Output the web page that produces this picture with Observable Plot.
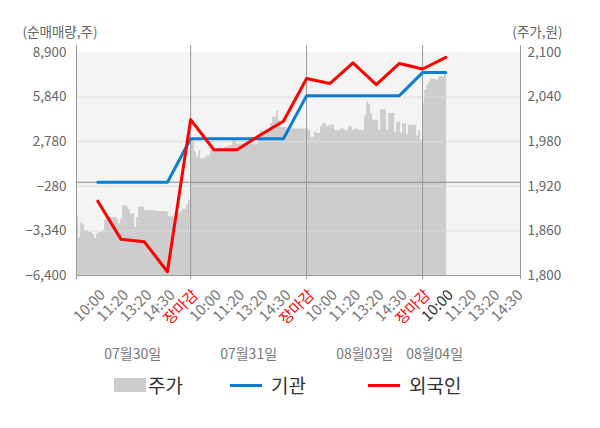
<!DOCTYPE html>
<html><head><meta charset="utf-8">
<script src="https://cdn.jsdelivr.net/npm/d3@7"></script>
<script src="https://cdn.jsdelivr.net/npm/@observablehq/plot@0.6"></script>
<style>
body{margin:0;background:#fff;font-family:"Noto Sans CJK KR","Noto Sans",sans-serif;}
#wrap{position:relative;width:600px;height:428px;overflow:hidden;}
#wrap svg{position:absolute;left:0;top:0;}
.lg{position:absolute;font-size:19px;color:#333;line-height:22px;}
.sw{position:absolute;}
</style></head><body><div id="wrap"></div>
<script>
const dates = ["07월30일", "07월31일", "08월03일", "08월04일"];
const tickLabels = ["10:00","11:20","13:20","14:30","장마감","10:00","11:20","13:20","14:30","장마감","10:00","11:20","13:20","14:30","장마감","10:00","11:20","13:20","14:30"];
const leftTicks = [-6400, -3340, -280, 2780, 5840, 8900];
const priceTicks = [1800, 1860, 1920, 1980, 2040, 2100];
const institution = [0, 0, 0, 0, 2980, 2980, 2980, 2980, 2980, 5939, 5939, 5939, 5939, 5939, 7521, 7521];
const foreign = [-1300, -3920, -4080, -6140, 4300, 2230, 2230, 3240, 4180, 7110, 6770, 8190, 6700, 8150, 7770, 8570];
const price0730 = [1879,1879,1851,1871,1868,1860,1860,1858,1858,1855,1850,1856,1858,1858,1860,1874,1878,1878,1878,1878,1878,1876,1870,1876,1894,1894,1892,1888,1882,1883,1865,1878,1892,1892,1892,1887,1887,1887,1887,1887,1887,1886,1886,1886,1886,1886,1885,1879,1879,1879,1879,1883,1883,1886,1889,1889,1895,1901,1901];
const price0731 = [1982,1982,1966,1959,1968,1957,1957,1958,1961,1961,1968,1968,1968,1968,1970,1970,1970,1973,1973,1975,1975,1982,1982,1977,1977,1977,1977,1977,1977,1977,1977,1977,1977,1977,1988,1995,1993,1993,1993,1993,2004,2013,2013,2022,2008,1999,1999,1999,1997,1997,1997,1997,1997,1997,1997,1997,1997,1997,1997];
const price0803 = [1997,1995,1986,1986,1993,1991,1991,2000,2004,2004,2000,2001,2002,2002,1995,1995,1995,1997,1997,1995,1995,2000,2000,1995,1997,1997,1995,1995,1995,2015,2033,2030,2018,2009,2009,2009,1995,2023,2023,2023,1995,2018,2018,2018,1993,2006,2006,1992,2004,2004,1990,2002,2002,2002,2002,1988,1995,1982,1982];
const price0804 = [2031,2049,2056,2060,2064,2064,2064,2062,2067,2067,2067,2072,2072];

const priceDays = [price0730, price0731, price0803, price0804];
const yMin = leftTicks[0], yMax = leftTicks[leftTicks.length - 1];
const pMin = priceTicks[0], pMax = priceTicks[priceTicks.length - 1];
const toLeft = p => yMin + (p - pMin) / (pMax - pMin) * (yMax - yMin);
const toPrice = v => pMin + (v - yMin) / (yMax - yMin) * (pMax - pMin);

const ticksPerDay = 5;
const stepT = ticksPerDay / 58;
const priceData = [];
const dayInfo = [];
priceDays.forEach((arr, d) => {
  const start = ticksPerDay * d - 1;
  arr.forEach((p, k) => priceData.push({t: start + k * stepT, v: toLeft(p)}));
  dayInfo.push({date: dates[d], c: start + (arr.length - 1) * stepT / 2});
});
const xTicks = tickLabels.map((label, i) => ({t: i, label}));
const closes = xTicks.filter(d => d.label === "장마감").map(d => d.t);
const nowIndex = foreign.length - 1;
const instData = institution.map((v, i) => ({t: i, v}));
const forData = foreign.map((v, i) => ({t: i, v}));
const xDomain = [-0.92, 18.22];
const fmt = d3.format(",");
const tickText = {x: "t", text: "label", frameAnchor: "bottom", lineAnchor: "middle", rotate: -45, textAnchor: "end", dx: 5, dy: 17, fontSize: 15};

const chart = Plot.plot({
  width: 600, height: 372,
  marginLeft: 76, marginRight: 80, marginTop: 52, marginBottom: 97,
  style: {fontFamily: "'Noto Sans CJK KR', 'Noto Sans', sans-serif", fontSize: "13px", background: "transparent"},
  x: {domain: xDomain, axis: null},
  y: {domain: [yMin, yMax], axis: null},
  marks: [
    Plot.frame({fill: "#f4f4f4", stroke: "none"}),
    Plot.areaY(priceData, {x: "t", y1: () => yMin, y2: "v", fill: "#cdcdcd", clip: true, curve: "step-after"}),
    Plot.ruleY(leftTicks.slice(1, -1), {stroke: "#dcdcdc", strokeWidth: 1}),
    Plot.ruleY([0], {stroke: "#8a8a8a", strokeWidth: 1}),
    Plot.ruleY([yMin], {stroke: "#9a9a9a", strokeWidth: 1}),
    Plot.ruleX(closes, {stroke: "#9a9a9a", strokeWidth: 1, insetTop: -7, insetBottom: -4}),
    Plot.ruleX(xDomain, {stroke: "#9a9a9a", strokeWidth: 1, insetTop: -7, insetBottom: -4}),
    Plot.line(instData, {x: "t", y: "v", stroke: "#0a7fcf", strokeWidth: 3}),
    Plot.line(forData, {x: "t", y: "v", stroke: "#ff0000", strokeWidth: 3}),
    Plot.axisY({ticks: leftTicks, tickSize: 0, tickPadding: 10, tickFormat: fmt, fontSize: 13.5, color: "#666", label: null}),
    Plot.axisY({anchor: "right", ticks: leftTicks, tickSize: 0, tickPadding: 7, tickFormat: v => fmt(Math.round(toPrice(v))), fontSize: 13.5, color: "#666", label: null}),
    Plot.text(["(순매매량,주)"], {text: d => d, frameAnchor: "top-left", lineAnchor: "middle", textAnchor: "start", dx: -54, dy: -20, fill: "#666", fontSize: 13.5}),
    Plot.text(["(주가,원)"], {text: d => d, frameAnchor: "top-right", lineAnchor: "middle", textAnchor: "end", dx: 42, dy: -20, fill: "#666", fontSize: 13.5}),
    Plot.text(xTicks, {...tickText, filter: d => d.label !== "장마감" && d.t !== nowIndex, fill: "#777"}),
    Plot.text(xTicks, {...tickText, filter: d => d.label === "장마감", fill: "#ff0000"}),
    Plot.text(xTicks, {...tickText, filter: d => d.t === nowIndex, fill: "#333"}),
    Plot.text(dayInfo, {x: "c", text: "date", frameAnchor: "bottom", lineAnchor: "middle", dy: 79, fill: "#777", fontSize: 14})
  ]
});
const wrap = document.getElementById("wrap");
wrap.appendChild(chart);
const legend = [
  {label: "주가", kind: "box", color: "#cdcdcd", x: 114, tx: 148},
  {label: "기관", kind: "line", color: "#0a7fcf", x: 230, tx: 271},
  {label: "외국인", kind: "line", color: "#ff0000", x: 368, tx: 409}
];
legend.forEach(l => {
  const sw = document.createElement("div");
  sw.className = "sw";
  sw.style.left = l.x + "px";
  sw.style.width = "32px";
  sw.style.background = l.color;
  if (l.kind === "box") { sw.style.top = "378px"; sw.style.height = "14px"; }
  else { sw.style.top = "384px"; sw.style.height = "3px"; }
  wrap.appendChild(sw);
  const t = document.createElement("div");
  t.className = "lg";
  t.style.left = l.tx + "px";
  t.style.top = "374px";
  t.textContent = l.label;
  wrap.appendChild(t);
});
</script></body></html>
